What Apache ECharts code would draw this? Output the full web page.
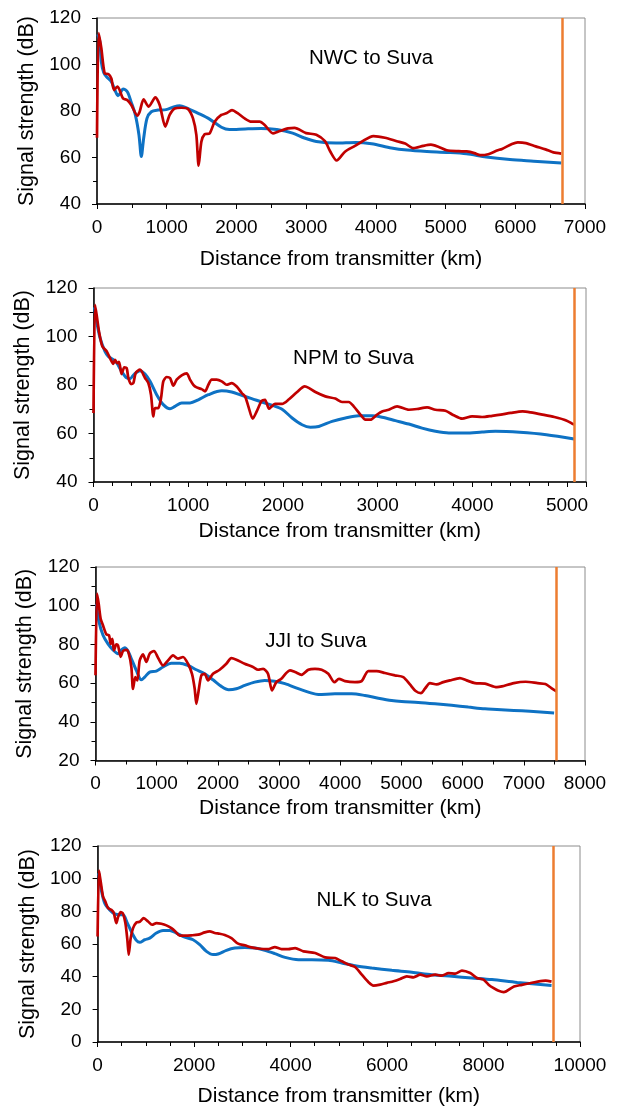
<!DOCTYPE html>
<html><head><meta charset="utf-8">
<script src="https://cdn.jsdelivr.net/npm/echarts@6/dist/echarts.min.js"></script>
<style>html,body{margin:0;padding:0;background:#fff}#c{width:619px;height:1110px}</style>
</head><body><div id="c"></div>
<script>
// ---------- data ----------
const panelTitles = ['NWC to Suva', 'NPM to Suva', 'JJI to Suva', 'NLK to Suva'];
const xMaxKm = [7000, 5200, 8000, 10000];
const xStepKm = [1000, 1000, 1000, 2000];
const yMinDb = [40, 40, 20, 0];
const yMaxDb = [120, 120, 120, 120];
const receiverKm = [6680, 5080, 7534, 9436];

const nwcBlue = [[10,113],[40,110],[62,101.2],[96,96.5],[134,94.8],[206,92.6],[263,88.6],[301,86.6],[340,88],[373,89.5],[435,88.3],[492,83.7],[550,78.3],[602,69.7],[636,60.4],[669,68.2],[717,76.8],[779,79.7],[875,80.4],[992,80.6],[1100,81.8],[1186,82.3],[1275,81.5],[1445,79.1],[1615,76.5],[1785,73],[1899,72],[2126,72.3],[2352,72.5],[2579,72],[2806,70.5],[2976,68.4],[3146,66.9],[3429,66.2],[3713,66.5],[3939,65.9],[4223,64.1],[4449,63.2],[4733,62.6],[5017,62.2],[5300,61.6],[5583,60.2],[5923,59.1],[6263,58.4],[6660,57.6]];
const nwcRed = [[0,68.5],[24,113.5],[62,107],[110,96.2],[167,95.8],[206,94],[244,89],[292,90.5],[325,89],[373,85.4],[435,84.7],[492,82.6],[579,78],[612,79.7],[669,85],[741,81.9],[837,85.9],[899,82.6],[980,73.3],[1042,78.3],[1114,81.1],[1210,81.4],[1305,80.9],[1377,76.8],[1425,69.7],[1458,56.5],[1497,66.8],[1544,70],[1616,70.4],[1688,75.4],[1783,78.3],[1855,79],[1936,80.4],[2022,79],[2118,76.8],[2214,75.4],[2333,75.4],[2405,74],[2524,70.4],[2596,71.1],[2740,72.5],[2834,72.7],[3000,70.5],[3146,69.8],[3270,67],[3344,62.7],[3438,58.7],[3557,62.5],[3700,65],[3796,66.8],[3964,69.2],[4131,68.5],[4300,67],[4420,66],[4538,64],[4680,65],[4790,65.5],[4903,64.5],[5017,63.1],[5187,62.7],[5302,62.6],[5413,61.9],[5498,61],[5613,61.4],[5738,63],[5810,63.7],[5952,65.8],[6036,66.5],[6150,66.2],[6292,64.8],[6433,63.5],[6547,62.2],[6660,61.7]];

const npmBlue = [[10,112],[33,106.2],[69,99.4],[121,93.9],[157,91.8],[192,90.9],[245,89.1],[297,85.6],[350,82.9],[385,82.6],[431,84.5],[491,85.9],[544,84.5],[597,81.5],[667,76],[737,71.9],[808,70.2],[861,71.2],[931,72.6],[1019,72.6],[1107,73.9],[1213,76],[1354,77.6],[1459,77.1],[1565,75.7],[1670,74.4],[1776,73],[1882,71.7],[1991,70],[2097,66.4],[2202,63.6],[2290,62.6],[2378,62.9],[2519,65],[2660,66.4],[2800,67.3],[2941,67.3],[3047,66.7],[3188,65.3],[3329,63.9],[3469,62.2],[3610,60.9],[3751,60.2],[3927,60.2],[4103,60.6],[4244,60.9],[4500,60.5],[4782,59.5],[5075,57.7]];
const npmRed = [[0,68.4],[16,113.1],[33,109],[58,102.1],[93,96],[139,93.9],[174,91.1],[209,88.7],[227,90.4],[252,89],[269,89.5],[297,84.5],[325,87.3],[350,87],[368,82.9],[396,80.4],[421,80.8],[446,85],[491,86.3],[544,82.9],[579,80.8],[607,76],[632,67.1],[649,70.5],[684,70.5],[713,74.6],[737,81.5],[773,83.3],[808,82.9],[843,79.7],[878,82.2],[931,84],[984,84.8],[1019,82.2],[1054,80.1],[1089,79],[1142,78.3],[1178,77.4],[1213,80.1],[1248,82.2],[1301,82.2],[1354,81.5],[1406,80.1],[1459,80.8],[1512,79.4],[1565,76.7],[1600,75.3],[1635,71.2],[1681,66.1],[1723,69.1],[1776,73.5],[1811,73.9],[1853,70.2],[1882,71.2],[1917,72.2],[1991,72.2],[2061,74],[2150,77.1],[2230,79.4],[2272,78.8],[2343,77.1],[2448,75.3],[2553,74.4],[2624,73],[2695,73],[2747,71.2],[2818,67.8],[2871,65.7],[2923,65.7],[2994,67.8],[3047,69.1],[3117,69.8],[3205,71.2],[3329,69.8],[3416,70.1],[3522,70.8],[3610,69.8],[3716,69.4],[3804,67.5],[3892,66.1],[3997,67.1],[4103,66.8],[4209,67.3],[4300,67.8],[4406,68.5],[4531,69.1],[4615,68.7],[4740,67.8],[4866,66.8],[4991,65.4],[5075,63.6]];

const jjiBlue = [[14,101],[52,92.4],[123,84.7],[204,80.3],[286,77.2],[368,75.2],[422,77.2],[477,78.3],[531,76.6],[586,72.6],[667,66.6],[749,61.7],[804,63.1],[885,65.7],[994,66.2],[1103,68.3],[1240,70.3],[1376,70.3],[1512,69.1],[1648,66.9],[1784,64.8],[1920,61.7],[2057,58.3],[2176,56.6],[2302,57.1],[2438,58.8],[2601,60.5],[2765,61.4],[2928,61],[3096,59.7],[3314,57.1],[3532,54.8],[3641,54.1],[3914,54.5],[4186,54.5],[4404,53.6],[4622,52.2],[4840,51],[5003,50.5],[5275,50],[5548,49.3],[5820,48.5],[6093,47.6],[6365,46.7],[6561,46.4],[6836,45.9],[7100,45.4],[7495,44.6]];
const jjiRed = [[0,64],[25,106.2],[52,101],[84,93.3],[123,89.8],[177,85.2],[221,84.7],[248,80.3],[275,82.9],[302,76.9],[340,80],[368,79.5],[411,73.5],[450,76.6],[504,77.2],[542,75.5],[586,68.3],[613,57],[651,63.1],[684,61.4],[722,71.7],[776,74.8],[831,70.9],[885,75.2],[956,76.6],[1022,73.1],[1103,69.1],[1185,71.7],[1267,74.3],[1348,72.6],[1430,73.5],[1512,70],[1577,64.8],[1621,57.1],[1648,49.3],[1686,56.2],[1730,64],[1784,64.8],[1839,61.4],[1920,64.8],[2029,66.9],[2138,70],[2220,72.9],[2302,72.1],[2438,70],[2574,68.3],[2656,66.9],[2738,67.4],[2819,64.8],[2885,56.2],[2955,60.5],[3037,62.2],[3120,65.3],[3178,66.6],[3260,65.7],[3369,64.3],[3478,66.9],[3587,67.4],[3696,66.9],[3805,64.8],[3905,60.5],[3979,62.2],[4078,61],[4241,60.5],[4349,61],[4458,66.2],[4595,66.2],[4731,65.2],[4894,64],[5030,63.1],[5139,59.3],[5232,55.9],[5319,54.8],[5384,57.1],[5466,60],[5575,59.3],[5684,60.5],[5793,61.4],[5956,62.6],[6065,61.4],[6201,60],[6365,59.7],[6561,57.9],[6641,58.3],[6836,60],[7030,60.7],[7224,60],[7353,59.5],[7450,57.4],[7534,55.7]];

const nlkBlue = [[22,103.3],[77,93.1],[147,85],[251,80.9],[354,78.5],[458,77.9],[527,77.9],[617,72.8],[714,66.7],[804,62.2],[873,61],[976,62.6],[1080,63.6],[1219,66.7],[1357,68.3],[1495,68.3],[1633,66.7],[1806,64.2],[1979,62.6],[2117,59.6],[2256,55.5],[2394,53.5],[2498,53.9],[2671,56.1],[2844,57.5],[3051,57.9],[3258,57.5],[3466,56.1],[3674,54.1],[3887,51.8],[4163,50.4],[4440,50.4],[4785,50],[5062,48.4],[5338,46.7],[5684,45.3],[6099,43.9],[6514,42.7],[6929,41.2],[7344,40.2],[7759,39.2],[8174,38.2],[8700,36.5],[9410,34.6]];
const nlkRed = [[0,64.6],[29,104.9],[64,98.2],[112,89.1],[160,86],[216,82],[285,80.9],[333,79.3],[389,72.8],[424,76.5],[479,79.5],[527,78.5],[576,72.8],[617,62.6],[645,53.5],[686,63.6],[735,69.7],[804,73.2],[873,73.6],[956,75.8],[1046,73.8],[1129,71.8],[1219,72.8],[1322,72.4],[1426,71.4],[1530,69.7],[1612,67.7],[1702,65.1],[1806,65.1],[1944,65.3],[2083,65.7],[2221,67.1],[2325,67.7],[2429,66.7],[2532,66.3],[2636,65.5],[2774,63.6],[2913,60.2],[3051,59.2],[3189,57.9],[3362,57.1],[3545,56.9],[3674,58.1],[3813,56.9],[3951,56.9],[4094,57.5],[4267,55.5],[4509,54.5],[4716,51.8],[4924,51.4],[5062,49.4],[5200,47.4],[5338,45.9],[5477,41.2],[5615,36.6],[5719,34.5],[5857,35.1],[5995,36.2],[6134,37.2],[6272,38.6],[6410,40.2],[6549,39.6],[6687,41.2],[6825,40.2],[7000,41.2],[7137,40.6],[7275,42.2],[7414,41.9],[7552,43.7],[7725,42.2],[7863,39.2],[8001,38.2],[8105,35.1],[8202,33.1],[8300,31.5],[8420,30.5],[8631,34],[8795,35],[8959,36],[9123,37],[9287,37.6],[9410,37]];

const blueData = [nwcBlue, npmBlue, jjiBlue, nlkBlue];
const redData = [nwcRed, npmRed, jjiRed, nlkRed];

// ---------- layout / style ----------
const FONT = '"Liberation Sans", Arial, sans-serif';
const gridBoxes = [
  {left: 97, right: 34, top: 18, height: 186},
  {left: 93.5, right: 33, top: 288, height: 194},
  {left: 95.5, right: 34, top: 567, height: 193.5},
  {left: 97.6, right: 39, top: 846, height: 196}
];
const xMinorSplit = [2, 5, 2, 4];
const yMinorOn = [true, true, true, false];
const xNameGaps = [45, 39, 37, 44];
const titlePos = [[371, 58], [353.5, 358], [316, 641], [374, 900]];
const BLUE = '#0E72C4', RED = '#C00000', ORANGE = '#ED7D31';

const grid = [], xAxis = [], yAxis = [], series = [], graphic = [];
for (let i = 0; i < 4; i++) {
  grid.push(Object.assign({show: true, borderColor: '#8c8c8c', borderWidth: 1, backgroundColor: 'transparent'}, gridBoxes[i]));
  xAxis.push({
    type: 'value', gridIndex: i, min: 0, max: xMaxKm[i], interval: xStepKm[i],
    name: 'Distance from transmitter (km)', nameLocation: 'middle', nameGap: xNameGaps[i],
    nameTextStyle: {fontFamily: FONT, fontSize: 21, color: '#000'},
    axisLine: {show: true, onZero: false, lineStyle: {color: '#000', width: 1.5}},
    axisTick: {show: true, length: 5, lineStyle: {color: '#000', width: 1}},
    minorTick: {show: true, splitNumber: xMinorSplit[i], length: 4, lineStyle: {color: '#000', width: 1}},
    axisLabel: {fontFamily: FONT, fontSize: 19, color: '#000', margin: 14, showMaxLabel: xMaxKm[i] % xStepKm[i] === 0,
      formatter: v => String(v)},
    splitLine: {show: false}
  });
  yAxis.push({
    type: 'value', gridIndex: i, min: yMinDb[i], max: yMaxDb[i], interval: 20,
    name: 'Signal strength (dB)', nameLocation: 'middle', nameGap: 59, nameRotate: 90,
    nameTextStyle: {fontFamily: FONT, fontSize: 21.5, color: '#000'},
    axisLine: {show: true, onZero: false, lineStyle: {color: '#000', width: 1.5}},
    axisTick: {show: true, length: 5, lineStyle: {color: '#000', width: 1}},
    minorTick: {show: yMinorOn[i], splitNumber: 2, length: 4, lineStyle: {color: '#000', width: 1}},
    axisLabel: {fontFamily: FONT, fontSize: 19, color: '#000', margin: 16},
    splitLine: {show: false}
  });
  series.push({
    type: 'line', xAxisIndex: i, yAxisIndex: i, data: blueData[i], showSymbol: false,
    smooth: 0.3, lineStyle: {color: BLUE, width: 3}, itemStyle: {color: BLUE}, z: 2
  });
  series.push({
    type: 'line', xAxisIndex: i, yAxisIndex: i, data: redData[i], showSymbol: false,
    smooth: 0.25, lineStyle: {color: RED, width: 2.7}, itemStyle: {color: RED}, z: 3,
    markLine: {silent: true, symbol: ['none', 'none'], label: {show: false}, animation: false,
      lineStyle: {color: ORANGE, width: 2.5, type: 'solid'}, data: [{xAxis: receiverKm[i]}]}
  });
  graphic.push({type: 'text', x: titlePos[i][0], y: titlePos[i][1],
    style: {text: panelTitles[i], fontFamily: FONT, fontSize: 20.5, fill: '#000', align: 'center', verticalAlign: 'middle'}});
}

const chart = echarts.init(document.getElementById('c'), null, {renderer: 'canvas'});
chart.setOption({animation: false, backgroundColor: '#fff', grid, xAxis, yAxis, series, graphic});
</script>
</body></html>
